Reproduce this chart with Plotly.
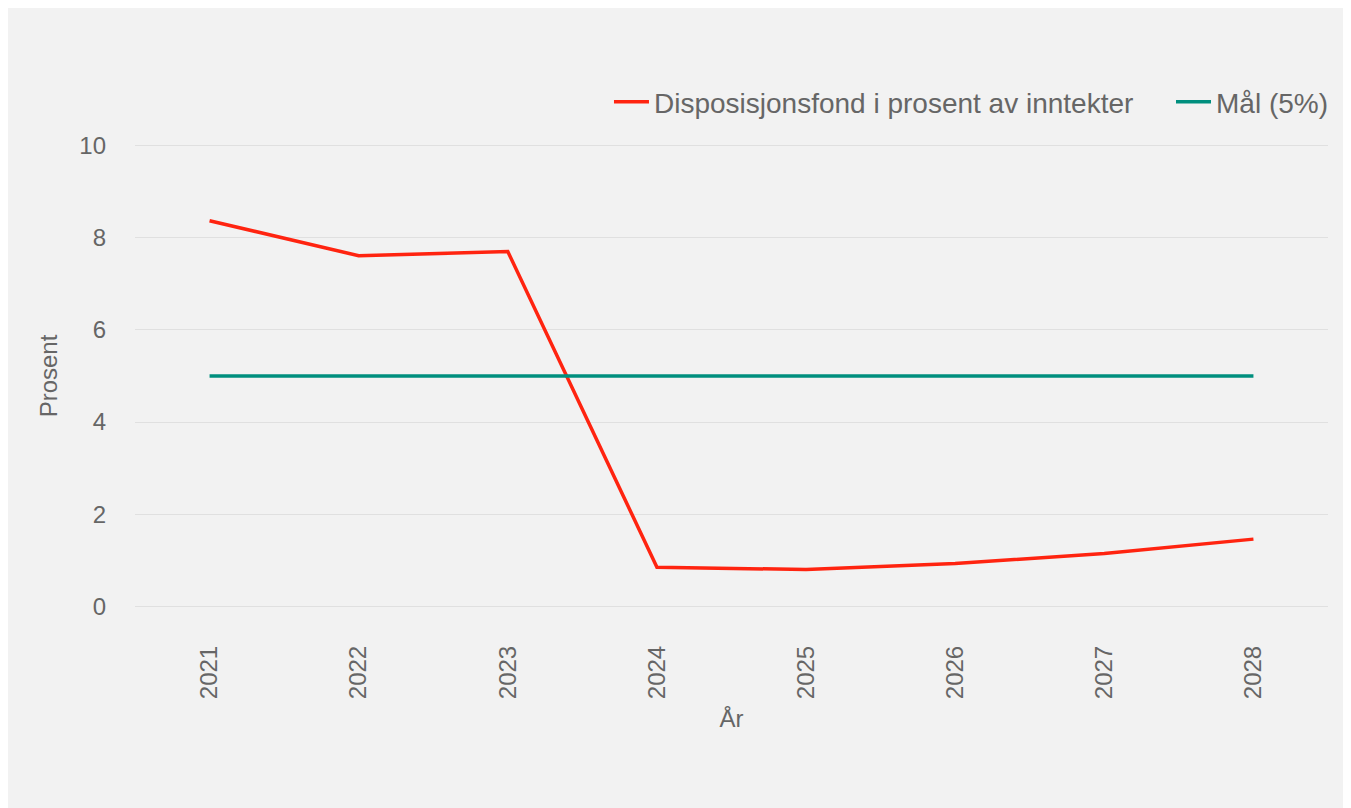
import plotly.graph_objects as go

years = ["2021", "2022", "2023", "2024", "2025", "2026", "2027", "2028"]
disposisjonsfond = [8.37, 7.61, 7.70, 0.85, 0.80, 0.93, 1.15, 1.46]
maal = [5, 5, 5, 5, 5, 5, 5, 5]

font_color = "#666666"
fig = go.Figure()
fig.add_trace(go.Scatter(x=years, y=disposisjonsfond, mode="lines",
                         name="Disposisjonsfond i prosent av inntekter",
                         line=dict(color="#ff2410", width=3.5), legend="legend"))
fig.add_trace(go.Scatter(x=years, y=maal, mode="lines", name="Mål (5%)",
                         line=dict(color="#008f7e", width=3.5), legend="legend2"))

leg_common = dict(orientation="h", yanchor="middle", y=1.083, itemwidth=35,
                  font=dict(size=28), bgcolor="rgba(0,0,0,0)")
fig.update_layout(
    width=1343, height=800,
    paper_bgcolor="#f2f2f2", plot_bgcolor="#f2f2f2",
    font=dict(family="Liberation Sans, Arial, sans-serif", size=24, color=font_color),
    margin=dict(l=127, r=23, t=133, b=197),
    legend=dict(x=0.3973, xanchor="left", **leg_common),
    legend2=dict(x=0.8684, xanchor="left", **leg_common),
    showlegend=True,
)
fig.update_xaxes(type="category", range=[-0.5, 7.5], tickangle=-90, showgrid=False,
                 showline=False, ticks="", ticklabelstandoff=29,
                 title=dict(text="År", standoff=12, font=dict(size=24)))
fig.update_yaxes(range=[-0.1, 10.1], tickvals=[0, 2, 4, 6, 8, 10], showgrid=True,
                 gridcolor="#e0e0e0", gridwidth=1,
                 zeroline=False, showline=False, ticks="", ticklabelstandoff=28,
                 title=dict(text="Prosent", standoff=14, font=dict(size=24)))

fig.write_html("out.html")
